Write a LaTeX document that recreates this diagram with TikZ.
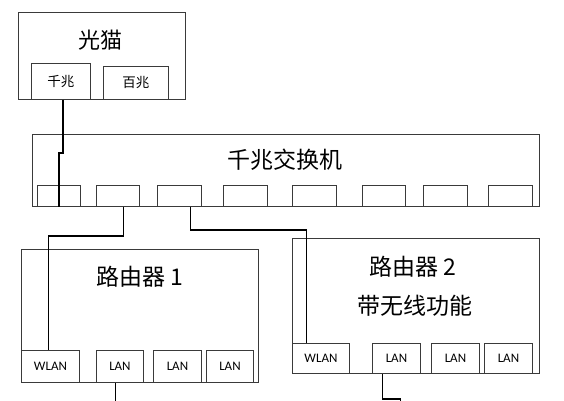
\documentclass[tikz,border=0pt]{standalone}
\usepackage{fontspec}
\setmainfont{Carlito}
\newfontfamily\cjk{Noto Sans CJK SC}
\usetikzlibrary{positioning}
\definecolor{boxline}{HTML}{3A3A3A}
\tikzstyle{link} = [line width=1.6pt, color=black]

\begin{document}
\begin{tikzpicture}[x=1pt, y=-1pt,
    unit/.style={rectangle, draw=boxline, line width=0.9pt, anchor=north west, inner sep=0pt},
    port/.style={rectangle, draw=boxline, line width=0.9pt, anchor=north west, inner sep=0pt,
      font=\fontsize{13}{14}\selectfont},
    title/.style={font=\cjk\fontsize{23}{25}\selectfont}
  ]
    \useasboundingbox (0,0) rectangle (564,400);

    % modem
    \node[unit, minimum width=167, minimum height=87] (modem) at (18,12) {};
    \node[title, font=\cjk\fontsize{22}{24}\selectfont] (modemlbl) at (100,40) {光猫};
    \node[port, minimum width=59, minimum height=36, font=\cjk\fontsize{13.5}{15}\selectfont] (gb) at (31,63) {千兆};
    \node[port, minimum width=65, minimum height=33, font=\cjk\fontsize{13.5}{15}\selectfont] (fe) at (103,66) {百兆};

    % switch
    \node[unit, minimum width=507, minimum height=72] (sw) at (32,134) {};
    \node[title] (swlbl) at (285,160) {千兆交换机};
    \node[port, minimum width=43, minimum height=21] (sp1) at (37,185) {};
    \node[port, minimum width=43, minimum height=21] (sp2) at (96,185) {};
    \node[port, minimum width=44, minimum height=21] (sp3) at (157,185) {};
    \node[port, minimum width=44, minimum height=21] (sp4) at (223,185) {};
    \node[port, minimum width=44, minimum height=21] (sp5) at (292,185) {};
    \node[port, minimum width=43, minimum height=21] (sp6) at (362,185) {};
    \node[port, minimum width=44, minimum height=21] (sp7) at (423,185) {};
    \node[port, minimum width=44, minimum height=21] (sp8) at (488,185) {};

    % router 1
    \node[unit, minimum width=237, minimum height=133] (ra) at (21,249) {};
    \node[title] (ralbl) at (140,277) {路由器 1};
    \node[port, minimum width=58, minimum height=32] (rawlan) at (21,350) {WLAN};
    \node[port, minimum width=47, minimum height=32] (ralan1) at (96,350) {LAN};
    \node[port, minimum width=48, minimum height=32] (ralan2) at (153,350) {LAN};
    \node[port, minimum width=47, minimum height=32] (ralan3) at (206,350) {LAN};

    % router 2
    \node[unit, minimum width=247, minimum height=135] (rb) at (292,238) {};
    \node[title] (rblbl) at (413,267) {路由器 2};
    \node[title] (rbnote) at (415,306) {带无线功能};
    \node[port, minimum width=57, minimum height=30] (rbwlan) at (292,343) {WLAN};
    \node[port, minimum width=48, minimum height=30] (rblan1) at (372,343) {LAN};
    \node[port, minimum width=48, minimum height=30] (rblan2) at (431,343) {LAN};
    \node[port, minimum width=48, minimum height=30] (rblan3) at (484,343) {LAN};

    % cables
    \draw[link] ([xshift=2]gb.south) -- ++(0,53) -| (sp1.south);
    \draw[link] ([xshift=5.5]sp2.south) -- ++(0,29) -| ([xshift=-2]rawlan.north);
    \draw[link] ([xshift=11]sp3.south) -- ++(0,23) -| ([xshift=-14.5]rbwlan.north);
    \draw[link] ([xshift=-4.5]ralan1.south) -- ++(0,20);
    \draw[link] ([xshift=-14]rblan1.south) -- ++(0,25) -- ++(18,0) -- ++(0,5);
  \end{tikzpicture}
\end{document}
